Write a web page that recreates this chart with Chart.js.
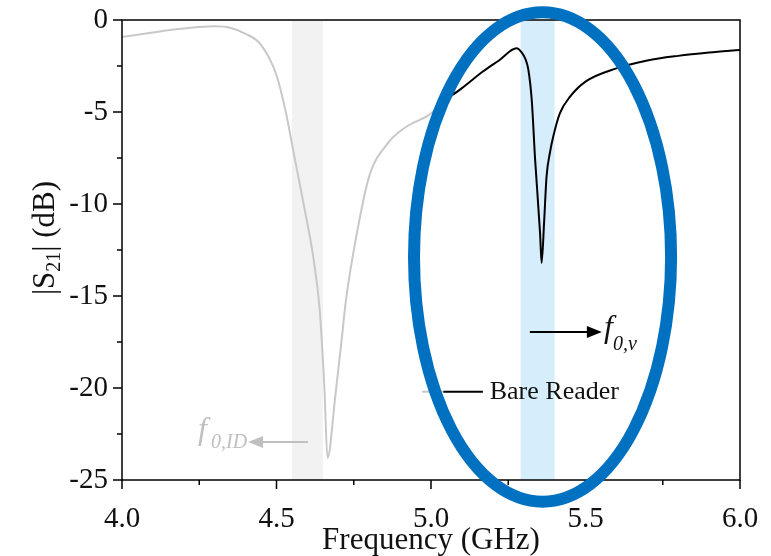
<!DOCTYPE html>
<html>
<head>
<meta charset="utf-8">
<script src="https://cdn.jsdelivr.net/npm/chart.js@4.4.1/dist/chart.umd.min.js"></script>
<style>
  body { margin: 0; background: #fff; }
  #wrap { width: 771px; height: 556px; }
</style>
</head>
<body>
<div id="wrap"><canvas id="graph"></canvas></div>
<script>
// with ID tag (grey curve)
const freqTag = [4.00, 4.05, 4.10, 4.15, 4.20, 4.25, 4.30, 4.35, 4.40, 4.45, 4.50, 4.53, 4.56, 4.59, 4.62, 4.64, 4.655, 4.665, 4.69, 4.71, 4.725, 4.76, 4.80, 4.86, 4.92, 4.99, 5.02, 5.05];
const s21Tag = [-0.92, -0.80, -0.68, -0.56, -0.46, -0.38, -0.34, -0.42, -0.75, -1.35, -3.0, -5.0, -7.6, -10.2, -13.0, -15.8, -20.0, -23.8, -20.5, -17.5, -15.2, -11.6, -8.5, -6.7, -5.8, -5.2, -4.8, -4.3];

// bare reader (black curve)
const freqReader = [5.05, 5.10, 5.168, 5.22, 5.277, 5.295, 5.305, 5.315, 5.326, 5.337, 5.353, 5.358, 5.366, 5.374, 5.385, 5.396, 5.417, 5.45, 5.50, 5.60, 5.70, 5.80, 5.90, 6.00];
const s21Reader = [-4.3, -3.7, -2.8, -2.2, -1.54, -1.8, -2.1, -2.7, -4.35, -7.6, -11.6, -13.2, -11.0, -8.5, -7.2, -6.3, -5.07, -4.17, -3.35, -2.63, -2.2, -1.95, -1.77, -1.63];

const xTicks = [4.0, 4.5, 5.0, 5.5, 6.0];
const yTicks = [0, -5, -10, -15, -20, -25];

const serif = "'Liberation Serif', 'Times New Roman', serif";

const bands = [
    {from: 4.55, to: 4.65, color: '#f2f2f2'},
    {from: 5.29, to: 5.40, color: '#d6edfb'}
];

function pts(xs, ys) {
    return xs.map((v, i) => ({x: v, y: ys[i]}));
}

function arrow(ctx, x0, y, x1, color) {
    const dir = x1 > x0 ? 1 : -1;
    ctx.strokeStyle = color;
    ctx.fillStyle = color;
    ctx.lineWidth = 2;
    ctx.beginPath();
    ctx.moveTo(x0, y);
    ctx.lineTo(x1 - dir * 12, y);
    ctx.stroke();
    ctx.beginPath();
    ctx.moveTo(x1, y);
    ctx.lineTo(x1 - dir * 15, y - 6);
    ctx.lineTo(x1 - dir * 15, y + 6);
    ctx.closePath();
    ctx.fill();
}

const deco = {
    id: 'deco',
    beforeDatasetsDraw(chart) {
        const {ctx, chartArea: a, scales: {x}} = chart;
        ctx.save();
        bands.forEach(b => {
            const x0 = x.getPixelForValue(b.from), x1 = x.getPixelForValue(b.to);
            ctx.fillStyle = b.color;
            ctx.fillRect(x0, a.top, x1 - x0, a.bottom - a.top);
        });
        ctx.restore();
    },
    afterDraw(chart) {
        const {ctx, chartArea: a, scales: {x, y}} = chart;
        ctx.save();

        // frame
        ctx.strokeStyle = '#000';
        ctx.lineWidth = 1.5;
        ctx.strokeRect(a.left, a.top, a.right - a.left, a.bottom - a.top);

        // outward ticks
        ctx.beginPath();
        for (let v = 4.0; v <= 6.001; v += 0.25) {
            const px = x.getPixelForValue(v);
            const major = Math.abs(v * 2 - Math.round(v * 2)) < 1e-6;
            ctx.moveTo(px, a.bottom);
            ctx.lineTo(px, a.bottom + (major ? 9 : 5));
        }
        for (let v = 0; v >= -25.001; v -= 2.5) {
            const py = y.getPixelForValue(v);
            const major = Math.abs(v / 5 - Math.round(v / 5)) < 1e-6;
            ctx.moveTo(a.left, py);
            ctx.lineTo(a.left - (major ? 9 : 5), py);
        }
        ctx.stroke();

        // y title with subscript
        ctx.save();
        ctx.translate(44, 238);
        ctx.rotate(-Math.PI / 2);
        ctx.fillStyle = '#111';
        ctx.textBaseline = 'alphabetic';
        const big = '31px ' + serif, small = '20px ' + serif;
        ctx.font = big;
        const w1 = ctx.measureText('|S').width;
        const w3 = ctx.measureText('| (dB)').width;
        ctx.font = small;
        const w2 = ctx.measureText('21').width;
        let cx = -(w1 + w2 + w3) / 2;
        ctx.font = big;
        ctx.fillText('|S', cx, 10);
        cx += w1;
        ctx.font = small;
        ctx.fillText('21', cx, 16);
        cx += w2;
        ctx.font = big;
        ctx.fillText('| (dB)', cx, 10);
        ctx.restore();

        // legend
        const ly = y.getPixelForValue(-20.2);
        ctx.lineWidth = 2;
        ctx.strokeStyle = '#c8c8c8';
        ctx.beginPath();
        ctx.moveTo(x.getPixelForValue(4.971), ly);
        ctx.lineTo(x.getPixelForValue(5.04), ly);
        ctx.stroke();
        ctx.strokeStyle = '#000';
        ctx.beginPath();
        ctx.moveTo(x.getPixelForValue(5.04), ly);
        ctx.lineTo(x.getPixelForValue(5.168), ly);
        ctx.stroke();
        ctx.fillStyle = '#111';
        ctx.font = '26px ' + serif;
        ctx.textBaseline = 'middle';
        ctx.fillText(chart.data.datasets[1].label, x.getPixelForValue(5.19), ly);

        // f0,v annotation
        ctx.textBaseline = 'alphabetic';
        const vy = y.getPixelForValue(-16.95);
        const vTip = x.getPixelForValue(5.553);
        arrow(ctx, x.getPixelForValue(5.32), vy, vTip, '#000');
        ctx.fillStyle = '#111';
        ctx.font = 'italic 32px ' + serif;
        ctx.fillText('f', vTip + 2, vy + 5);
        ctx.font = 'italic 20px ' + serif;
        ctx.fillText('0,v', vTip + 11, vy + 18);

        // f0,ID annotation
        const iy = y.getPixelForValue(-22.93);
        const iTip = x.getPixelForValue(4.408);
        arrow(ctx, x.getPixelForValue(4.602), iy, iTip, '#c0c0c0');
        ctx.fillStyle = '#c0c0c0';
        ctx.font = 'italic 32px ' + serif;
        ctx.fillText('f', iTip - 50, iy - 3);
        ctx.font = 'italic 20px ' + serif;
        ctx.fillText('0,ID', iTip - 37, iy + 6);

        // highlight ellipse
        const ex = x.getPixelForValue(5.361), ey = y.getPixelForValue(-12.88);
        const rx = x.getPixelForValue(5.361 + 0.416) - ex;
        const ry = y.getPixelForValue(-12.88 - 13.3) - ey;
        ctx.strokeStyle = '#0070c0';
        ctx.lineWidth = 12;
        ctx.beginPath();
        ctx.ellipse(ex, ey, rx, ry, 0, 0, Math.PI * 2);
        ctx.stroke();

        ctx.restore();
    }
};

new Chart(document.getElementById('graph'), {
    type: 'line',
    data: {
        datasets: [{
            label: 'With ID',
            data: pts(freqTag, s21Tag),
            borderColor: '#c8c8c8',
            borderWidth: 2,
            pointRadius: 0,
            cubicInterpolationMode: 'monotone'
        }, {
            label: 'Bare Reader',
            data: pts(freqReader, s21Reader),
            borderColor: '#000',
            borderWidth: 2,
            pointRadius: 0,
            cubicInterpolationMode: 'monotone'
        }]
    },
    plugins: [deco],
    options: {
        responsive: true,
        maintainAspectRatio: false,
        animation: false,
        layout: {padding: {top: 20, right: 31, left: 0, bottom: 0}},
        plugins: {legend: {display: false}, tooltip: {enabled: false}},
        scales: {
            x: {
                type: 'linear',
                min: 4.0, max: 6.0,
                afterFit: s => { s.height = 76; s.paddingLeft = 0; s.paddingRight = 0; },
                afterBuildTicks: s => { s.ticks = xTicks.map(v => ({value: v})); },
                grid: {display: false},
                border: {display: false},
                ticks: {
                    padding: 14,
                    color: '#111',
                    font: {family: serif, size: 29},
                    maxRotation: 0,
                    callback: v => v.toFixed(1)
                },
                title: {
                    display: true,
                    text: 'Frequency (GHz)',
                    color: '#111',
                    font: {family: serif, size: 31},
                    padding: {top: 0, bottom: -3}
                }
            },
            y: {
                min: -25, max: 0,
                afterFit: s => { s.width = 122; s.paddingTop = 0; s.paddingBottom = 0; },
                afterBuildTicks: s => { s.ticks = yTicks.map(v => ({value: v})); },
                grid: {display: false},
                border: {display: false},
                ticks: {
                    padding: 6,
                    color: '#111',
                    font: {family: serif, size: 29},
                    callback: v => String(v)
                }
            }
        }
    }
});
</script>
</body>
</html>
